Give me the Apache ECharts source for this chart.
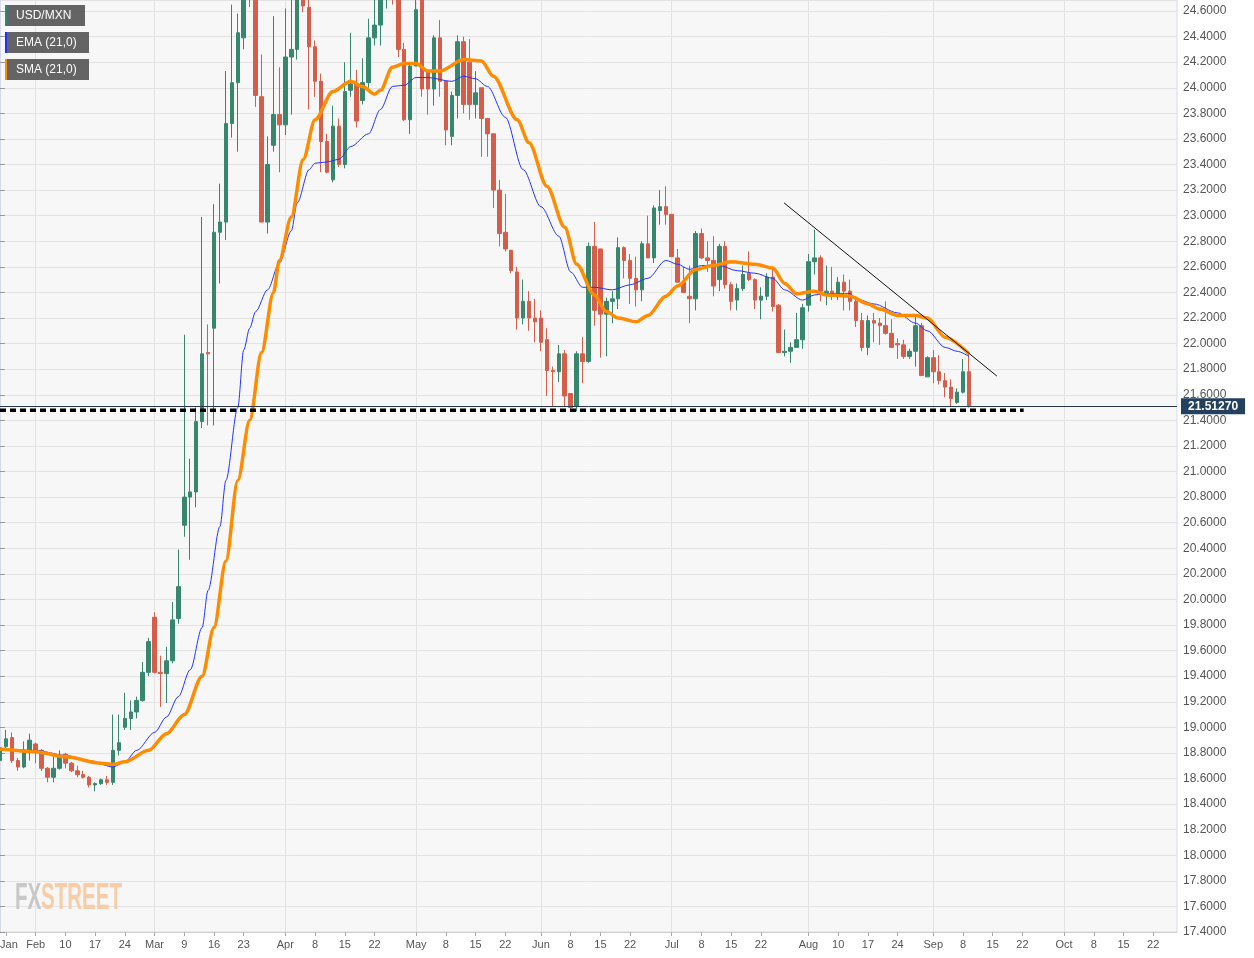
<!DOCTYPE html>
<html>
<head>
<meta charset="utf-8">
<title>USD/MXN</title>
<script src="https://cdn.jsdelivr.net/npm/echarts@6/dist/echarts.min.js"></script>
<style>
  html, body { margin: 0; padding: 0; background: #fff; }
  #chart { width: 1254px; height: 958px; }
</style>
</head>
<body>
<div id="chart"></div>
<script>
// trading days on the axis: Jan 24 .. Oct 28 2020, weekends skipped
const dayCount = 199
const dates = []
;(function () {
  let d = new Date(Date.UTC(2020, 0, 24))
  while (dates.length < dayCount) {
    const wd = d.getUTCDay()
    if (wd !== 0 && wd !== 6) dates.push(d.toISOString().slice(0, 10))
    d = new Date(d.getTime() + 86400000)
  }
})()

// x axis tick labels
const xTickDates = [
  '2020-01-27', '2020-02-03', '2020-02-10', '2020-02-17', '2020-02-24',
  '2020-03-02', '2020-03-09', '2020-03-16', '2020-03-23',
  '2020-04-01', '2020-04-08', '2020-04-15', '2020-04-22',
  '2020-05-01', '2020-05-08', '2020-05-15', '2020-05-22',
  '2020-06-01', '2020-06-08', '2020-06-15', '2020-06-22',
  '2020-07-01', '2020-07-08', '2020-07-15', '2020-07-22',
  '2020-08-03', '2020-08-10', '2020-08-17', '2020-08-24',
  '2020-09-01', '2020-09-08', '2020-09-15', '2020-09-22',
  '2020-10-01', '2020-10-08', '2020-10-15', '2020-10-22',
]
const xTickTexts = [
  'Jan', 'Feb', '10', '17', '24',
  'Mar', '9', '16', '23',
  'Apr', '8', '15', '22',
  'May', '8', '15', '22',
  'Jun', '8', '15', '22',
  'Jul', '8', '15', '22',
  'Aug', '10', '17', '24',
  'Sep', '8', '15', '22',
  'Oct', '8', '15', '22',
]

// y axis
const yMin = 17.4
const yMax = 24.686
const yStep = 0.2

// daily candles (Jan 24 .. Sep 9)
const opens = [
  18.74, 18.85, 18.92, 18.74, 18.69, 18.82, 18.87, 18.82, 18.68, 18.61,
  18.68, 18.79, 18.72, 18.66, 18.63, 18.61, 18.55, 18.56, 18.59, 18.57,
  18.82, 19.00, 19.07, 19.12, 19.21, 19.43, 19.86, 19.43, 19.42, 19.52,
  19.85, 20.58, 20.80, 20.84, 21.39, 21.93, 22.12, 22.87, 22.95, 23.72,
  24.04, 24.39, 25.20, 24.90, 23.93, 22.95, 23.55, 23.79, 23.71, 24.24,
  24.30, 24.74, 24.63, 24.32, 24.05, 23.58, 23.28, 23.70, 23.40, 23.98,
  24.03, 23.90, 24.04, 24.39, 24.49, 24.70, 24.80, 24.72, 24.30, 23.75,
  24.17, 24.72, 24.13, 23.99, 24.39, 24.05, 23.62, 23.94, 24.36, 24.20,
  23.87, 24.00, 23.76, 23.64, 23.20, 22.87, 22.73, 22.56, 22.20, 22.33,
  22.20, 22.20, 22.03, 21.79, 21.78, 21.92, 21.61, 21.51, 21.92, 21.86,
  22.76, 22.74, 22.23, 22.33, 22.35, 22.75, 22.65, 22.51, 22.42, 22.78,
  22.67, 23.04, 23.07, 23.01, 22.67, 22.48, 22.37, 22.35, 22.86, 22.67,
  22.65, 22.50, 22.76, 22.46, 22.34, 22.43, 22.55, 22.50, 22.34, 22.37,
  22.52, 22.30, 21.93, 21.94, 21.97, 22.03, 22.30, 22.64, 22.67, 22.39,
  22.41, 22.38, 22.48, 22.41, 22.33, 22.18, 21.97, 22.18, 22.16, 22.14,
  22.08, 22.00, 21.99, 21.90, 21.94, 22.14, 21.74, 21.89, 21.78, 21.71,
  21.66, 21.54, 21.62, 21.78,
]
const closes = [
  18.84, 18.91, 18.74, 18.69, 18.82, 18.90, 18.82, 18.68, 18.61, 18.68,
  18.78, 18.72, 18.66, 18.63, 18.61, 18.55, 18.56, 18.59, 18.57, 18.82,
  18.88, 19.07, 19.12, 19.21, 19.43, 19.67, 19.43, 19.42, 19.52, 19.84,
  20.10, 20.80, 20.84, 21.39, 21.92, 21.92, 22.87, 22.95, 23.72, 24.04,
  24.43, 25.10, 24.85, 23.94, 22.95, 23.40, 23.79, 23.71, 24.24, 24.30,
  24.80, 24.64, 24.32, 24.05, 23.58, 23.34, 23.70, 23.40, 23.97, 24.03,
  23.74, 24.04, 24.39, 24.49, 24.75, 24.80, 24.72, 24.30, 23.75, 24.17,
  24.61, 23.99, 23.99, 24.39, 24.05, 23.67, 23.94, 24.36, 23.87, 23.87,
  23.96, 23.76, 23.64, 23.20, 22.86, 22.74, 22.57, 22.20, 22.33, 22.20,
  22.17, 22.01, 21.79, 21.78, 21.92, 21.59, 21.50, 21.92, 21.86, 22.76,
  22.26, 22.23, 22.33, 22.35, 22.75, 22.65, 22.51, 22.42, 22.78, 22.67,
  23.06, 23.07, 23.01, 22.68, 22.48, 22.40, 22.35, 22.86, 22.67, 22.65,
  22.45, 22.76, 22.46, 22.33, 22.43, 22.54, 22.50, 22.34, 22.37, 22.52,
  22.29, 21.93, 21.94, 21.97, 22.03, 22.28, 22.64, 22.67, 22.41, 22.41,
  22.39, 22.48, 22.41, 22.33, 22.18, 21.97, 22.18, 22.16, 22.14, 22.08,
  21.97, 21.99, 21.90, 21.94, 22.14, 21.75, 21.89, 21.78, 21.71, 21.66,
  21.57, 21.62, 21.78, 21.5127,
]
const lows = [
  18.70, 18.82, 18.72, 18.66, 18.68, 18.74, 18.72, 18.66, 18.57, 18.57,
  18.67, 18.68, 18.65, 18.61, 18.60, 18.53, 18.50, 18.55, 18.55, 18.55,
  18.78, 18.98, 18.98, 19.07, 19.20, 19.40, 19.42, 19.16, 19.19, 19.50,
  19.81, 20.49, 20.31, 20.72, 21.34, 21.36, 21.36, 22.47, 22.81, 23.61,
  23.50, 24.30, 24.63, 23.85, 22.95, 22.86, 23.50, 23.34, 23.63, 23.79,
  24.22, 24.59, 23.83, 23.93, 23.34, 23.33, 23.26, 23.38, 23.37, 23.93,
  23.69, 23.87, 24.00, 24.33, 24.33, 24.62, 24.65, 24.24, 23.74, 23.64,
  24.17, 23.93, 23.79, 23.86, 23.93, 23.55, 23.55, 23.76, 23.80, 23.75,
  23.76, 23.46, 23.46, 23.06, 22.76, 22.72, 22.55, 22.11, 22.15, 22.10,
  22.01, 21.94, 21.59, 21.51, 21.70, 21.51, 21.47, 21.47, 21.69, 21.85,
  22.14, 21.89, 21.90, 22.16, 22.27, 22.51, 22.31, 22.29, 22.33, 22.67,
  22.63, 22.93, 22.93, 22.68, 22.48, 22.40, 22.16, 22.26, 22.66, 22.56,
  22.37, 22.41, 22.43, 22.26, 22.26, 22.41, 22.49, 22.27, 22.19, 22.34,
  22.25, 21.93, 21.90, 21.85, 21.97, 21.96, 22.25, 22.54, 22.33, 22.30,
  22.34, 22.34, 22.26, 22.26, 22.13, 21.94, 21.91, 22.01, 21.99, 22.07,
  21.97, 21.88, 21.88, 21.88, 21.82, 21.75, 21.74, 21.69, 21.68, 21.58,
  21.51, 21.53, 21.61, 21.50,
]
const highs = [
  18.90, 18.98, 18.96, 18.76, 18.89, 18.95, 18.88, 18.83, 18.69, 18.78,
  18.82, 18.80, 18.73, 18.70, 18.66, 18.62, 18.57, 18.60, 18.62, 19.10,
  19.10, 19.27, 19.21, 19.24, 19.51, 19.70, 19.90, 19.56, 19.63, 19.98,
  20.39, 22.07, 21.10, 21.50, 22.99, 22.15, 23.09, 23.25, 24.13, 24.65,
  24.58, 25.40, 25.50, 25.00, 24.26, 23.62, 24.56, 24.16, 24.62, 24.75,
  25.00, 24.85, 24.70, 24.37, 24.11, 23.64, 23.86, 23.76, 24.20, 24.43,
  24.14, 24.23, 24.54, 24.70, 24.85, 24.95, 24.90, 24.80, 24.35, 24.19,
  24.75, 24.80, 24.14, 24.41, 24.53, 24.05, 23.97, 24.41, 24.40, 24.38,
  24.13, 24.00, 23.76, 23.64, 23.28, 23.17, 22.73, 22.60, 22.50, 22.41,
  22.35, 22.26, 22.12, 21.82, 21.99, 21.95, 21.61, 21.94, 22.05, 22.79,
  22.95, 22.74, 22.36, 22.41, 22.83, 22.76, 22.70, 22.68, 22.80, 23.00,
  23.08, 23.20, 23.23, 23.01, 22.74, 22.60, 22.61, 22.88, 22.90, 22.80,
  22.84, 22.78, 22.80, 22.48, 22.47, 22.61, 22.72, 22.51, 22.44, 22.55,
  22.59, 22.31, 22.11, 22.01, 22.24, 22.31, 22.70, 22.89, 22.69, 22.61,
  22.60, 22.52, 22.54, 22.50, 22.37, 22.24, 22.22, 22.24, 22.20, 22.33,
  22.19, 22.04, 22.03, 21.96, 22.22, 22.16, 21.90, 21.95, 21.91, 21.77,
  21.72, 21.65, 21.88, 21.94,
]

// EMA(21) and SMA(21): [day index, value]
const emaPoints = [
  [0, 18.83], [6, 18.82], [11, 18.78], [15, 18.74], [19, 18.69], [21, 18.73],
  [23, 18.82], [26, 18.96], [28, 19.08], [30, 19.24], [32, 19.45], [34, 19.78],
  [35, 20.07], [37, 20.57], [38, 20.93], [40, 21.50], [41, 21.95], [42, 22.12],
  [43, 22.25], [45, 22.42], [47, 22.63], [49, 22.88], [50, 23.10], [52, 23.36],
  [53, 23.41], [55, 23.42], [57, 23.44], [59, 23.54], [62, 23.64], [64, 23.83],
  [66, 24.01], [68, 24.02], [70, 24.08], [72, 24.08], [76, 24.05], [78, 24.09],
  [80, 24.07], [82, 24.01], [85, 23.77], [88, 23.36], [91, 23.07], [94, 22.84],
  [96, 22.56], [98, 22.44], [100, 22.44], [103, 22.42], [106, 22.46], [109, 22.51],
  [112, 22.65], [114, 22.62], [116, 22.58], [118, 22.61], [121, 22.61], [124, 22.57],
  [127, 22.55], [130, 22.51], [132, 22.42], [135, 22.34], [137, 22.38], [139, 22.39],
  [143, 22.39], [144, 22.35], [147, 22.31], [151, 22.24], [154, 22.16], [156, 22.10],
  [159, 21.97], [161, 21.94], [163, 21.90],
]
const smaPoints = [
  [0, 18.83], [6, 18.81], [11, 18.77], [17, 18.72], [19, 18.71], [21, 18.73],
  [25, 18.82], [28, 18.95], [31, 19.10], [34, 19.40], [36, 19.78], [38, 20.30],
  [40, 20.93], [42, 21.40], [44, 21.93], [46, 22.40], [47, 22.65], [49, 22.99],
  [51, 23.44], [53, 23.75], [56, 23.97], [59, 24.05], [61, 24.01], [63, 23.95],
  [64, 23.98], [66, 24.16], [68, 24.19], [70, 24.19], [72, 24.13], [74, 24.13],
  [78, 24.22], [81, 24.21], [83, 24.09], [87, 23.75], [89, 23.57], [92, 23.23],
  [95, 22.91], [97, 22.62], [100, 22.38], [102, 22.25], [104, 22.20], [107, 22.17],
  [109, 22.22], [112, 22.37], [114, 22.45], [117, 22.58], [120, 22.61], [123, 22.64],
  [127, 22.62], [130, 22.59], [132, 22.47], [134, 22.39], [137, 22.41], [139, 22.38],
  [143, 22.37], [146, 22.31], [148, 22.27], [151, 22.22], [154, 22.22], [156, 22.20],
  [159, 22.05], [163, 21.92],
]

// drawn levels
const lastPrice = 21.5127
const supportLine = [[0, 21.478], [172.2, 21.478]]
const trendLine = [[131.9, 23.10], [167.7, 21.746]]

const tickText = {}
xTickDates.forEach((d, i) => { tickText[d] = xTickTexts[i] })
const monthStarts = new Set(xTickDates.filter((d, i) => isNaN(+xTickTexts[i]) && i > 0))
const candleData = opens.map((o, i) => [o, closes[i], lows[i], highs[i]])

const font = '"Liberation Sans", Arial, sans-serif'
const upColor = '#37876f'
const downColor = '#d55e4a'

const chart = echarts.init(document.getElementById('chart'))

const legendBox = (y, w, stripe, text) => [
  { type: 'rect', shape: { x: 5, y: y, width: w, height: 21 }, style: { fill: 'rgba(88,88,88,0.93)' }, z: 100 },
  { type: 'rect', shape: { x: 5, y: y, width: 2, height: 21 }, style: { fill: stripe }, z: 101 },
  { type: 'text', x: 16, y: y + 11, style: { text: text, fill: '#fff', fontSize: 12, fontFamily: font, verticalAlign: 'middle' }, z: 101 },
]

const option = {
  animation: false,
  backgroundColor: '#fff',
  grid: {
    left: 0, right: 77, top: 0, bottom: 26,
    outerBoundsMode: 'none',
    show: true, backgroundColor: '#f7f7f7', borderColor: '#d6dbe7', borderWidth: 1,
  },
  xAxis: [
    {
      type: 'category',
      data: dates,
      boundaryGap: false,
      axisLine: { lineStyle: { color: '#d0d0d0' } },
      axisTick: { show: true, interval: (i, v) => v in tickText, length: 4, lineStyle: { color: '#aaa' } },
      axisLabel: {
        interval: (i, v) => v in tickText,
        // first label sits at the left edge, nudge it inside
        formatter: (v, i) => (i === 1 ? '{first|' + tickText[v] + '}' : tickText[v] || ''),
        rich: { first: { padding: [0, 0, 0, 6], color: '#555', fontSize: 11, fontFamily: font } },
        color: '#555', fontSize: 11, fontFamily: font, margin: 7,
      },
      splitLine: { show: true, interval: (i, v) => monthStarts.has(v), lineStyle: { color: '#e3e3e3' } },
    },
    { type: 'value', min: 0, max: dayCount - 1, show: false },
  ],
  yAxis: {
    type: 'value',
    position: 'right',
    min: yMin, max: yMax, interval: yStep,
    axisLine: { show: true, lineStyle: { color: '#d6dbe7' } },
    axisTick: { show: true, length: 5, lineStyle: { color: '#999' } },
    axisLabel: {
      margin: 6, color: '#555', fontSize: 12, fontFamily: font,
      showMaxLabel: false,
      formatter: v => v.toFixed(4),
    },
    splitLine: { lineStyle: { color: '#e3e3e3' } },
  },
  series: [
    {
      name: 'USD/MXN',
      type: 'candlestick',
      data: candleData,
      barWidth: 4,
      itemStyle: { color: upColor, color0: downColor, borderColor: upColor, borderColor0: downColor, borderWidth: 1 },
      markLine: {
        silent: true,
        symbol: 'none',
        lineStyle: { color: '#27374a', width: 1, type: 'solid' },
        label: {
          show: true, position: 'end', distance: 4,
          formatter: lastPrice.toFixed(5),
          color: '#fff', backgroundColor: '#23405f', padding: [2, 7],
          fontSize: 12, fontWeight: 'bold', fontFamily: font,
        },
        data: [{ yAxis: lastPrice }],
      },
    },
    {
      name: 'EMA (21,0)',
      type: 'line',
      xAxisIndex: 1,
      data: emaPoints,
      showSymbol: false,
      smooth: 0.3,
      smoothMonotone: 'x',
      lineStyle: { color: '#2233ff', width: 1 },
    },
    {
      name: 'SMA (21,0)',
      type: 'line',
      xAxisIndex: 1,
      data: smaPoints,
      showSymbol: false,
      smooth: 0.3,
      smoothMonotone: 'x',
      lineStyle: { color: '#ff8c00', width: 3.5 },
    },
    {
      name: 'support',
      type: 'line',
      xAxisIndex: 1,
      data: supportLine,
      showSymbol: false,
      lineStyle: { color: '#000', width: 3.5, type: [6, 4] },
    },
    {
      name: 'trend',
      type: 'line',
      xAxisIndex: 1,
      data: trendLine,
      showSymbol: false,
      lineStyle: { color: '#111', width: 1 },
    },
  ],
  graphic: [].concat(
    legendBox(5, 80, '#2e8b6e', 'USD/MXN'),
    legendBox(32, 84, '#1e2fff', 'EMA (21,0)'),
    legendBox(59, 84, '#ff8c00', 'SMA (21,0)'),
    [
      { type: 'text', x: 15, y: 899, scaleX: 0.57, style: { text: 'FX', fill: '#c8c8c8', fontSize: 36, fontWeight: 'bold', fontFamily: font, verticalAlign: 'middle' }, z: 50 },
      { type: 'text', x: 41, y: 899, scaleX: 0.57, style: { text: 'STREET', fill: '#f6cda6', fontSize: 36, fontWeight: 'bold', fontFamily: font, verticalAlign: 'middle' }, z: 50 },
    ]
  ),
}

chart.setOption(option)
</script>
</body>
</html>
